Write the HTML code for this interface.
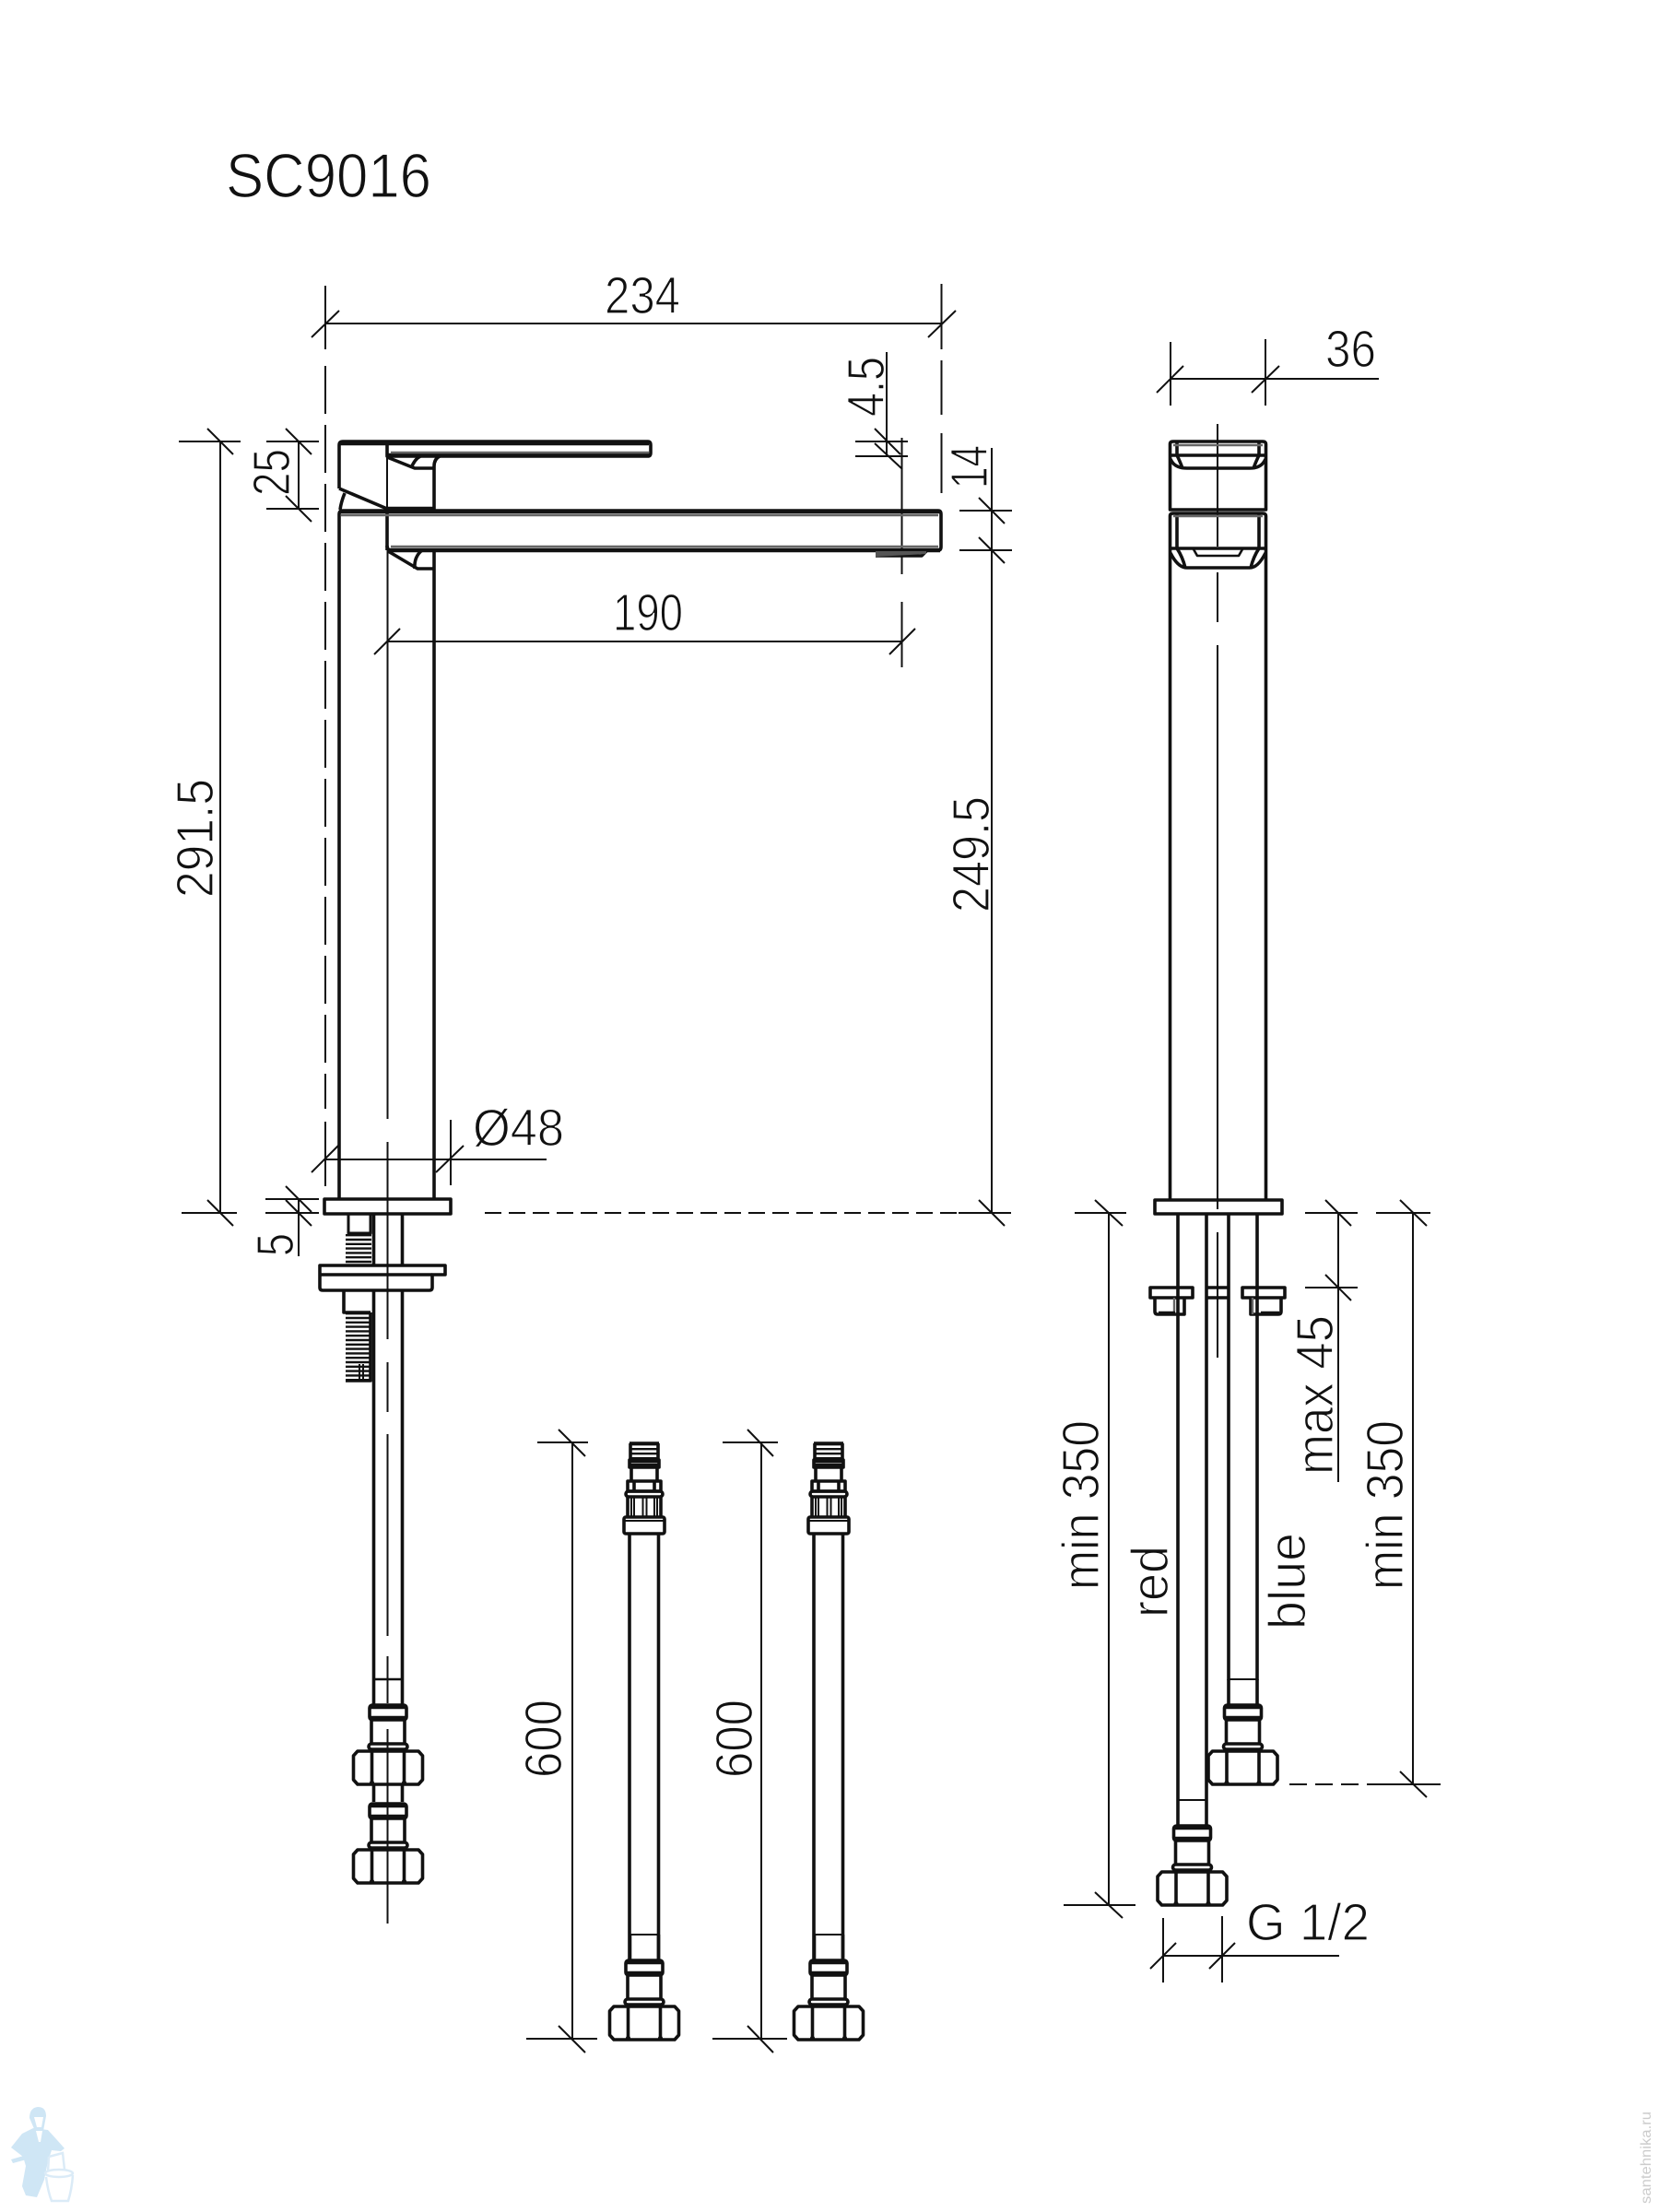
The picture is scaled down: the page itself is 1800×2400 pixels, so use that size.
<!DOCTYPE html>
<html><head><meta charset="utf-8"><style>
html,body{margin:0;padding:0;background:#fff}
svg{display:block}
text{font-family:"Liberation Sans",sans-serif;font-size:57px;fill:#111;stroke:#fff;stroke-width:1.3}
.d{stroke:#111;stroke-width:2;fill:none}
.p{stroke:#111;stroke-width:3.6;fill:none;stroke-linejoin:round}
.g{stroke:#666;stroke-width:2.4;fill:none}
.h{stroke:#111;stroke-width:4.6;fill:none}
</style></head><body>
<svg xmlns="http://www.w3.org/2000/svg" width="1800" height="2400" viewBox="0 0 1800 2400">
<defs>
<g id="fit" fill="none">
<rect class="p" x="-20" y="-86" width="40" height="16" rx="3"/>
<path class="h" d="M-20,-84H20M-20,-72H20"/>
<path class="p" d="M-18,-70V-44M18,-70V-44"/>
<rect class="p" x="-21" y="-44" width="42" height="6" rx="3"/>
<path class="h" d="M-19,-37H19"/>
<path class="p" d="M-33,-36H33L37.5,-31V-5L33,0H-33L-37.5,-5V-31Z"/>
<path class="p" d="M-17.5,-35V-1M17.5,-35V-1"/>
<circle cx="-17.5" cy="-1.5" r="2.6" fill="#111"/><circle cx="17.5" cy="-1.5" r="2.6" fill="#111"/>
</g>
<g id="pipeend" fill="none">
<path class="d" stroke-width="2.6" d="M-15.5,-114H15.5"/>
<path class="p" d="M-15.5,-87V-114M15.5,-87V-114"/>
</g>
<g id="top" fill="none">
<path d="M0,1V18" stroke="#111" stroke-width="32" stroke-dasharray="2.4 2.6"/>
<path class="p" d="M-16,1H16M-16,18H16M-15,1V18M15,1V18"/>
<rect class="p" x="-16" y="19" width="32" height="8"/>
<path class="h" d="M-16,20H16M-16,25H16"/>
<path class="p" d="M-14,27V42M14,27V42"/>
<rect class="p" x="-18" y="42" width="36" height="11"/>
<path class="p" d="M-11,42V53M11,42V53"/>
<rect class="p" x="-20" y="53" width="40" height="6" rx="3"/>
<path class="p" d="M-18,59V81M18,59V81"/>
<path class="d" d="M-14,59V81M-11,59V81M-1.5,59V81M2.5,59V81M11,59V81M14,59V81"/>
<rect class="p" x="-22" y="81" width="44" height="18" rx="2"/>
<path class="d" d="M-22,85H22" stroke-width="3"/>
</g>
</defs>

<!-- text -->
<text x="245" y="214" style="font-size:68px" textLength="223" lengthAdjust="spacingAndGlyphs">SC9016</text>
<text x="656" y="340" textLength="82" lengthAdjust="spacingAndGlyphs">234</text>
<text x="665" y="684" textLength="76" lengthAdjust="spacingAndGlyphs">190</text>
<text x="513" y="1243" textLength="99" lengthAdjust="spacingAndGlyphs">Ø48</text>
<text x="1438" y="398" textLength="55" lengthAdjust="spacingAndGlyphs">36</text>
<text x="1352" y="2105" textLength="134" lengthAdjust="spacingAndGlyphs">G 1/2</text>
<text transform="translate(959,452) rotate(-90)" textLength="65" lengthAdjust="spacingAndGlyphs">4.5</text>
<text transform="translate(1071,530) rotate(-90)" textLength="47" lengthAdjust="spacingAndGlyphs">14</text>
<text transform="translate(314,538) rotate(-90)" textLength="51" lengthAdjust="spacingAndGlyphs">25</text>
<text transform="translate(318,1363) rotate(-90)" textLength="25" lengthAdjust="spacingAndGlyphs">5</text>
<text transform="translate(231,974) rotate(-90)" textLength="129" lengthAdjust="spacingAndGlyphs">291.5</text>
<text transform="translate(1073,990) rotate(-90)" textLength="126" lengthAdjust="spacingAndGlyphs">249.5</text>
<text transform="translate(609,1929) rotate(-90)" textLength="85" lengthAdjust="spacingAndGlyphs">600</text>
<text transform="translate(816,1929) rotate(-90)" textLength="85" lengthAdjust="spacingAndGlyphs">600</text>
<text transform="translate(1192,1725) rotate(-90)" textLength="184" lengthAdjust="spacingAndGlyphs">min 350</text>
<text transform="translate(1267,1755) rotate(-90)" textLength="78" lengthAdjust="spacingAndGlyphs">red</text>
<text transform="translate(1416,1768) rotate(-90)" textLength="105" lengthAdjust="spacingAndGlyphs">blue</text>
<text transform="translate(1522,1725) rotate(-90)" textLength="184" lengthAdjust="spacingAndGlyphs">min 350</text>
<text transform="translate(1446,1600) rotate(-90)" textLength="173" lengthAdjust="spacingAndGlyphs">max 45</text>

<!-- LEFT VIEW dimensions -->
<g class="d">
<path d="M353,351H1021.5"/>
<path d="M353,310V379M1021.5,308V379"/>
<path d="M338,366L368,337M1007,366L1037,337"/>
<path d="M353,397V1203" stroke-dasharray="52 12"/>
<path d="M353,1217V1287"/>
<path d="M1021.5,391V450M1021.5,470V535"/>
<path d="M289,479H346M289,552H346M324,479V552M310,465L338,493M310,538L338,566"/>
<path d="M194,479H261M239,479V1316M225,465L253,493M197,1316H257M225,1302L253,1330"/>
<path d="M962,382V495M928,479H985M928,495H985M949,465L977,493M949,481L979,509"/>
<path d="M978.5,475V623M978.5,653V724"/>
<path d="M420,696H979M406,710L434,682M965,710L993,682"/>
<path d="M1041,554H1098M1041,597H1098M1076,486V1316M1062,540L1090,568M1062,583L1090,611"/>
<path d="M1062,1302L1090,1330M1040,1316H1097"/>
<path d="M526,1316H1040" stroke-dasharray="18 8"/>
<path d="M353,1258H593M489,1215V1286M338,1272L367,1243M473,1272L503,1243"/>
<path d="M288,1301H346M288,1316H346M324,1301V1363M310,1287L338,1315M310,1302L338,1330"/>
<path d="M420.5,597V1214M420.5,1239V1453M420.5,1478V1532M420.5,1556V1775M420.5,1797V1848M420.5,1876V2087"/>
<path d="M420,479V552"/>
</g>

<!-- LEFT VIEW body -->
<g class="p">
<path d="M368,530V483Q368,479 372,479H703Q706,479 706,483V491Q706,495 703,495H420V482"/>
<path d="M368,530L420,552H471V506Q471,498 477,495"/>
<path d="M420,552V597"/>
<path d="M420,496L450,508H471M446,508Q450,498 456,495"/>
<path d="M374,535Q370,545 369,553"/>
<path d="M368,1301V558Q368,554 372,554H1018Q1021,554 1021,558V593Q1021,597 1018,597H424Q420,597 420,592"/>
<path d="M471,597V1301"/>
<path d="M421,598L453,617H471M450,617Q449,604 458,597"/>
<rect x="352" y="1301" width="137" height="16"/>
</g>
<path class="h" d="M368,481H704M420,552H471M368,555H1020M420,597H1020M420,494H704" stroke-width="3.6"/>
<path class="g" d="M424,491H704M370,559H1018M424,593H1018"/>
<path class="p" d="M950,603H1000L1005,598" stroke-width="3"/>
<path d="M950,598H1005V601L950,604Z" fill="#555"/>

<!-- under foot -->
<g class="p">
<path d="M405.5,1317V1373M436.5,1317V1373M405.5,1400V1850M436.5,1400V1850"/>
<path d="M405.5,1936V1955M436.5,1936V1955"/>
<path d="M405.5,1822H436.5" stroke-width="2.6"/>
<rect x="378" y="1317" width="24" height="21" stroke-width="3"/>
<path d="M347,1373H483V1383H469V1397Q469,1400 466,1400H350Q347,1400 347,1397Z"/>
<path d="M347,1383H469"/>
<path d="M373,1400V1424H402"/>
</g>
<path d="M389,1339V1373" stroke="#111" stroke-width="28" stroke-dasharray="2.4 2.4" fill="none"/>
<path d="M389,1424V1498" stroke="#111" stroke-width="28" stroke-dasharray="2.4 2.4" fill="none"/>
<path class="p" d="M402,1424V1498H375" stroke-width="2.6"/>
<path class="d" d="M390,1480V1498M394,1480V1498"/>
<use href="#fit" x="421" y="1936"/>
<use href="#fit" x="421" y="2043"/>
<path class="d" d="M420.5,1876V2087"/>

<!-- HOSES -->
<use href="#top" x="699" y="1565"/>
<use href="#top" x="899" y="1565"/>
<path class="p" d="M683,1664V2126M714.5,1664V2126M883,1664V2126M914.5,1664V2126"/>
<use href="#pipeend" x="699" y="2213"/>
<use href="#pipeend" x="899" y="2213"/>
<use href="#fit" x="699" y="2213"/>
<use href="#fit" x="899" y="2213"/>
<g class="d">
<path d="M583,1565H638M621,1565V2212M606,1551L635,1580M571,2212H648M606,2198L635,2227"/>
<path d="M784,1565H844M826,1565V2212M811,1551L839,1580M773,2212H854M811,2198L839,2227"/>
</g>

<!-- RIGHT VIEW -->
<g class="d">
<path d="M1270,411H1496M1270,371V440M1373,368V440M1255,426L1284,397M1358,426L1388,397"/>
<path d="M1321,460V593M1321,621V675M1321,700V1312M1321,1337V1473"/>
<path d="M1416,1316H1473M1416,1397H1473M1452,1316V1608M1438,1302L1466,1330M1438,1383L1466,1411"/>
<path d="M1493,1316H1552M1533,1316V1936M1519,1302L1548,1330M1519,1922L1548,1950M1500,1936H1563"/>
<path d="M1399,1936H1500" stroke-dasharray="19 9"/>
<path d="M1166,1316H1222M1203,1316V2067M1188,1302L1218,1330M1154,2067H1232M1188,2053L1218,2081"/>
<path d="M1262,2081V2151M1326,2079V2151M1262,2122H1453M1248,2136L1276,2108M1312,2136L1340,2108"/>
</g>
<g class="p">
<path d="M1269.5,553V482Q1269.5,479 1273,479H1370Q1373.5,479 1373.5,482V553H1269.5Z"/>
<path d="M1269.5,494H1373.5M1277,479V494M1366,479V494"/>
<path d="M1270,498Q1274,508 1288,508H1356Q1369,508 1373,498M1277,494Q1280,500 1283,508M1366,494Q1363,500 1360,508"/>
<path d="M1269.5,1302V560Q1269.5,557 1273,557H1370Q1373.5,557 1373.5,560V1302"/>
<path d="M1277,557V595M1366,557V595M1269.5,595H1373.5"/>
<path d="M1270,600Q1278,616 1288,616H1356Q1365,616 1373,600M1277,595Q1283,604 1286,616M1366,595Q1360,604 1357,616"/>
<path d="M1295,596L1299,603H1344L1348,596" stroke-width="2.6"/>
<rect x="1253" y="1302" width="138" height="15"/>
<path d="M1278,1317V1953M1309,1317V1953M1333,1317V1823M1364,1317V1823"/>
<path d="M1248,1397H1294V1408H1248ZM1253,1408V1423Q1253,1426 1256,1426H1285V1408"/>
<path d="M1348,1397H1394V1408H1348ZM1390,1408V1423Q1390,1426 1387,1426H1357V1408"/>
<path d="M1309,1397H1333M1309,1408H1333"/>
</g>
<path class="g" d="M1273,483H1370M1273,560H1370"/>
<path class="g" d="M1274,1408V1426M1359,1408V1426"/>
<path class="h" d="M1257,1425H1275M1368,1425H1388" stroke-width="3"/>
<use href="#pipeend" x="1348.5" y="1936"/>
<use href="#pipeend" x="1293.5" y="2067"/>
<use href="#fit" x="1348.5" y="1936"/>
<use href="#fit" x="1293.5" y="2067"/>

<!-- watermark -->
<g fill="#cfe6f5">
<path d="M32,2298Q32,2287 41,2286Q50,2286 50,2296L47,2312H38Z"/>
<path d="M36,2309L52,2311L62,2322L70,2331L66,2334L56,2333L52,2345L48,2365L40,2384L28,2382L24,2372L28,2350L25,2340L12,2330L24,2315Z"/>
<path d="M12,2343L46,2333L44,2339L14,2347Z"/>
</g>
<path d="M37,2297H47L45,2308H40Z" fill="#fff"/>
<path d="M39,2312L46,2312L44,2324H42Z" fill="#fff"/>
<g fill="none" stroke="#dbebf7" stroke-width="2.5">
<path d="M53,2340L68,2336L70,2354M53,2340L52,2356"/>
<ellipse cx="64" cy="2358" rx="15" ry="4"/>
<path d="M50,2362Q52,2378 56,2388H74Q78,2375 79,2360"/>
</g>
<text transform="translate(1791,2391) rotate(-90)" textLength="100" lengthAdjust="spacingAndGlyphs" style="font-size:16px;fill:#ccc;stroke:none">santehnika.ru</text>
</svg>
</body></html>
